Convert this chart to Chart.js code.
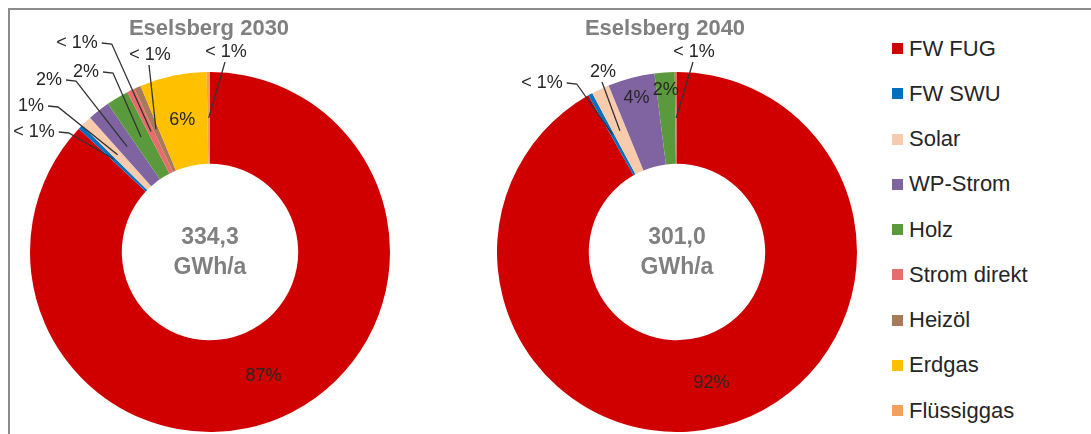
<!DOCTYPE html>
<html>
<head>
<meta charset="utf-8">
<script src="https://cdn.jsdelivr.net/npm/chart.js@4.4.1/dist/chart.umd.min.js"></script>
<style>
  html, body { margin: 0; padding: 0; background: #fff; }
  body { width: 1091px; height: 434px; position: relative; overflow: hidden;
         font-family: "Liberation Sans", Arial, sans-serif; }
  #frame { position: absolute; left: 8px; top: 8px; right: -4px; bottom: -4px;
           border-top: 2px solid #8c8c8c; border-left: 2px solid #8c8c8c; }
  .pie { position: absolute; top: 0; height: 434px; }
  #w1 { left: 0; width: 420px; }
  #w2 { left: 430px; width: 440px; }
  #legend { position: absolute; left: 892px; top: 26px; margin: 0; padding: 0; list-style: none; }
  #legend li { height: 45.25px; display: flex; align-items: center; font-size: 22px; color: #262626; }
  #legend li span { display: inline-block; width: 11px; height: 11px; margin-right: 6px; }
</style>
</head>
<body>
<div id="frame"></div>
<div class="pie" id="w1"><canvas id="c2030"></canvas></div>
<div class="pie" id="w2"><canvas id="c2040"></canvas></div>
<ul id="legend"></ul>

<script>
// data (shares in % of final energy)
const categories = ["FW FUG", "FW SWU", "Solar", "WP-Strom", "Holz", "Strom direkt", "Heizöl", "Erdgas", "Flüssiggas"];
const colors = ["#d00000", "#0070c0", "#f8cbad", "#8064a2", "#5b9a3c", "#e86c6c", "#a87a5a", "#ffc000", "#f4a05a"];
const share2030 = [87, 0.4, 1, 2, 2, 0.7, 0.6, 6, 0.3];
const share2040 = [91.8, 0.4, 1.6, 4.2, 1.8, 0.2, 0, 0, 0];
const total2030 = 334.3;
const total2040 = 301.0;

const FONT = '"Liberation Sans", Arial, sans-serif';

// where each label goes: inside the ring, or outside with a leader line
const place2030 = [
  {mode: "in", r: 135},
  {mode: "side", dx: -176, dy: -120},
  {mode: "side", dx: -179, dy: -146},
  {mode: "side", dx: -161, dy: -172},
  {mode: "side", dx: -124, dy: -180},
  {mode: "side", dx: -133, dy: -209},
  {mode: "below", dx: -60, dy: -197},
  {mode: "in", r: 135},
  {mode: "below", dx: 16, dy: -200}
];
const place2040 = [
  {mode: "in", r: 135},
  {mode: "side", dx: -135, dy: -169},
  {mode: "below", dx: -74, dy: -180},
  {mode: "in", r: 159},
  {mode: "in", r: 162},
  {mode: "below", dx: 17, dy: -200},
  null, null, null
];

let pctText = (v) => v < 1 ? "< 1%" : Math.round(v) + "%";

const labelPlugin = {
  id: "pieLabels",
  afterDatasetsDraw(chart, args, opts) {
    let ctx = chart.ctx;
    let meta = chart.getDatasetMeta(0);
    let vals = chart.data.datasets[0].data;
    let first = meta.data[0];
    let cx = first.x, cy = first.y;

    ctx.save();
    // title
    ctx.fillStyle = "#808080";
    ctx.textAlign = "center";
    ctx.textBaseline = "middle";
    ctx.font = "bold 22px " + FONT;
    ctx.fillText(opts.title, cx + opts.titleDx, 29);
    // total in the hole
    ctx.font = "bold 23px " + FONT;
    ctx.fillText(opts.total.toFixed(1).replace(".", ","), cx, cy - 14);
    ctx.fillText("GWh/a", cx, cy + 16);

    ctx.font = "18px " + FONT;
    ctx.fillStyle = "#262626";
    ctx.strokeStyle = "#333";
    ctx.lineWidth = 1.3;
    meta.data.forEach((arc, i) => {
      let v = vals[i];
      let p = opts.place[i];
      if (!v || !p) return;
      let mid = (arc.startAngle + arc.endAngle) / 2;
      let txt = pctText(v);
      if (p.mode === "in") {
        ctx.fillText(txt, cx + Math.cos(mid) * p.r, cy + Math.sin(mid) * p.r);
        return;
      }
      let ra = (arc.innerRadius + arc.outerRadius) / 2;
      let ax = cx + Math.cos(mid) * ra, ay = cy + Math.sin(mid) * ra;
      let tx = cx + p.dx, ty = cy + p.dy;
      ctx.fillText(txt, tx, ty);
      ctx.beginPath();
      if (p.mode === "side") {
        let w = ctx.measureText(txt).width;
        ctx.moveTo(tx + w / 2 + 4, ty);
        ctx.lineTo(tx + w / 2 + 14, ty + 1);
      } else {
        ctx.moveTo(tx - 1, ty + 10);
      }
      ctx.lineTo(ax, ay);
      ctx.stroke();
    });
    ctx.restore();
  }
};

let makePie = (id, data, pad, title, titleDx, total, place) => new Chart(id, {
  type: "doughnut",
  data: {
    labels: categories,
    datasets: [{
      data: data,
      backgroundColor: colors,
      borderWidth: 0
    }]
  },
  options: {
    responsive: true,
    maintainAspectRatio: false,
    animation: false,
    cutout: "49%",
    layout: { padding: pad },
    plugins: {
      legend: { display: false },
      tooltip: { enabled: false },
      pieLabels: { title: title, titleDx: titleDx, total: total, place: place }
    }
  },
  plugins: [labelPlugin]
});

makePie("c2030", share2030, {left: 30, right: 30, top: 72, bottom: 2}, "Eselsberg 2030", -1, total2030, place2030);
makePie("c2040", share2040, {left: 67, right: 13, top: 72, bottom: 2}, "Eselsberg 2040", -12, total2040, place2040);

for (let i = 0; i < categories.length; i++) {
  document.getElementById("legend").innerHTML += `<li><span style="background:${colors[i]}"></span>${categories[i]}</li>`;
}
</script>
</body>
</html>
